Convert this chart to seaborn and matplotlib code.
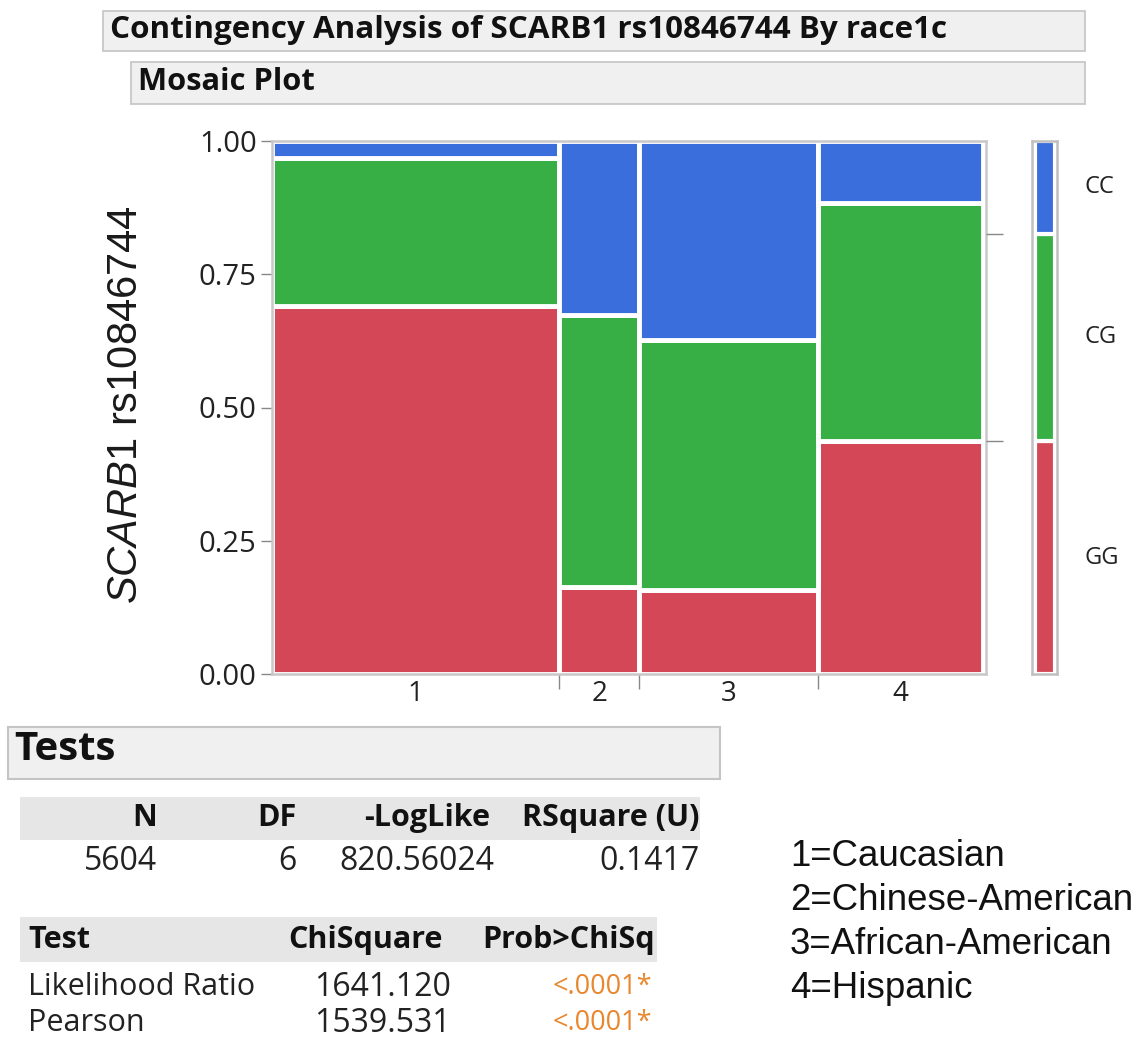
import matplotlib
matplotlib.use("Agg")
import matplotlib.pyplot as plt
from matplotlib.patches import Rectangle
import numpy as np
import seaborn as sns

# ---------------- data ----------------
races = ["1", "2", "3", "4"]
race_share = [0.404, 0.112, 0.252, 0.232]          # column widths (share of N)
genotypes = ["GG", "CG", "CC"]                     # bottom -> top
gg_share = [0.690, 0.163, 0.157, 0.437]
cg_share = [0.278, 0.511, 0.470, 0.447]
cc_share = [0.032, 0.326, 0.373, 0.116]
marginal_share = [0.437, 0.389, 0.174]             # GG, CG, CC overall
y_ticks = [0.00, 0.25, 0.50, 0.75, 1.00]
y_tick_labels = ["0.00", "0.25", "0.50", "0.75", "1.00"]

title = "Contingency Analysis of SCARB1 rs10846744 By race1c"
subtitle = "Mosaic Plot"
tests_title = "Tests"
summary_headers = ["N", "DF", "-LogLike", "RSquare (U)"]
summary_values = ["5604", "6", "820.56024", "0.1417"]
test_headers = ["Test", "ChiSquare", "Prob>ChiSq"]
test_names = ["Likelihood Ratio", "Pearson"]
test_chisq = ["1641.120", "1539.531"]
test_prob = ["<.0001*", "<.0001*"]
race_legend = ["1=Caucasian", "2=Chinese-American", "3=African-American", "4=Hispanic"]

colors = {"GG": "#d44757", "CG": "#37af44", "CC": "#3a6edc"}

# ---------------- figure ----------------
sns.set_theme(style="white")
plt.rcParams["font.family"] = ["Open Sans", "DejaVu Sans"]
plt.rcParams["mathtext.fontset"] = "custom"
plt.rcParams["mathtext.it"] = "Liberation Sans:italic"
plt.rcParams["mathtext.rm"] = "Liberation Sans"

W, H = 1138, 1046
fig = plt.figure(figsize=(W / 100, H / 100), dpi=100)

def fx(x):
    return x / W

def fy(y):
    return 1 - y / H

def box(x0, y0, x1, y1, fc, ec, lw=1.2):
    fig.patches.append(Rectangle((fx(x0), fy(y1)), fx(x1) - fx(x0), fy(y0) - fy(y1),
                                 transform=fig.transFigure, facecolor=fc,
                                 edgecolor=ec, linewidth=lw, zorder=0))

UI = ["Open Sans", "DejaVu Sans"]
ARIAL = ["Liberation Sans", "DejaVu Sans"]

def txt(x, y, s, size, ha="left", weight="normal", color="#1a1a1a", family=None, **kw):
    fam = family if family else UI
    fig.text(fx(x), fy(y), s, fontsize=size, ha=ha, va="center", weight=weight,
             color=color, family=fam, **kw)

# header boxes
box(103, 11, 1085, 51, "#f0f0f0", "#c4c4c4")
txt(110, 30, title, 22.6, weight="bold", color="#111111")
box(131, 62, 1085, 104, "#f0f0f0", "#c4c4c4")
txt(138, 82, subtitle, 22.2, weight="bold", color="#111111")

# ---------------- mosaic ----------------
L, R, T, B = 272, 986, 141, 674
ax = fig.add_axes([fx(L), fy(B), fx(R) - fx(L), fy(T) - fy(B)])
lefts = np.concatenate([[0], np.cumsum(race_share)[:-1]])
shares = {"GG": gg_share, "CG": cg_share, "CC": cc_share}
bottom = np.zeros(len(races))
for g in genotypes:
    h = np.array(shares[g])
    ax.bar(lefts, h, width=race_share, bottom=bottom, align="edge",
           color=colors[g], edgecolor="white", linewidth=3.5, zorder=1)
    bottom += h

ax.set_xlim(0, 1.004)
ax.set_ylim(0, 1)
for sp in ax.spines.values():
    sp.set_color("#c8c8c8")
    sp.set_linewidth(1.8)
ax.set_yticks(y_ticks)
ax.set_yticklabels(y_tick_labels, fontsize=21, color="#222222", family=UI)
bounds = np.cumsum(race_share)[:-1]
ax.set_xticks(bounds)
ax.set_xticklabels([])
ax.tick_params(axis="y", which="major", length=8, width=1, color="#888888", pad=3,
               left=True)
ax.tick_params(axis="x", which="major", length=11, width=1, color="#888888",
               bottom=True, direction="out")
centers = lefts + np.array(race_share) / 2
for c, lab in zip(centers, races):
    ax.text(c, -0.038, lab, transform=ax.get_xaxis_transform(), ha="center",
            va="center", fontsize=20, color="#222222", family=UI)

ax.set_ylabel("")
fig.text(fx(126), fy(405), r"$\mathit{SCARB1}$" + " rs10846744", rotation=90,
         ha="center", va="center", fontsize=30, color="#1a1a1a", family=ARIAL)

# right-side ticks at marginal boundaries
ax2 = ax.twinx()
ax2.set_ylim(0, 1)
ax2.set_yticks(np.cumsum(marginal_share)[:-1])
ax2.set_yticklabels([])
ax2.tick_params(axis="y", right=True, length=12, width=1, color="#888888")
for sp in ax2.spines.values():
    sp.set_visible(False)
ax2.grid(False)

# marginal bar
axm = fig.add_axes([fx(1032), fy(B), fx(1057) - fx(1032), fy(T) - fy(B)])
mb = 0.0
for g, s in zip(genotypes, marginal_share):
    axm.bar([0.5], [s], width=0.8, bottom=mb, color=colors[g], edgecolor="white",
            linewidth=3, zorder=1)
    axm.text(2.1, mb + s / 2, g, transform=axm.get_yaxis_transform(), ha="left",
             va="center", fontsize=17, color="#222222", family=UI)
    mb += s
axm.set_xlim(0, 1)
axm.set_ylim(0, 1)
axm.set_xticks([])
axm.set_yticks([])
for sp in axm.spines.values():
    sp.set_color("#c0c0c0")
    sp.set_linewidth(1.8)

# ---------------- tests section ----------------
box(8, 727, 720, 779, "#f0f0f0", "#c4c4c4", lw=1.5)
txt(14, 749, tests_title, 29, weight="bold", color="#111111")

box(20, 797, 700, 840, "#e6e6e6", "#e6e6e6", lw=0)
hdr_right = [157, 297, 490, 700]
val_right = [157, 297, 494, 700]
for s, xr in zip(summary_headers, hdr_right):
    txt(xr, 818, s, 22, ha="right", weight="bold", color="#111111")
for s, xr in zip(summary_values, val_right):
    txt(xr, 862, s, 23, ha="right", color="#222222")

box(20, 917, 657, 962, "#e6e6e6", "#e6e6e6", lw=0)
txt(28, 940, test_headers[0], 22, weight="bold", color="#111111")
txt(443, 940, test_headers[1], 22, ha="right", weight="bold", color="#111111")
txt(655, 940, test_headers[2], 22, ha="right", weight="bold", color="#111111")
for i, (n, c, p) in enumerate(zip(test_names, test_chisq, test_prob)):
    yy = 987 + 36 * i
    txt(28, yy, n, 22, color="#222222")
    txt(451, yy, c, 23, ha="right", color="#222222")
    txt(652, yy, p, 19.5, ha="right", color="#e8872e")

# race legend
for i, s in enumerate(race_legend):
    txt(790, 857 + 44 * i, s, 26.4, color="#111111", family=ARIAL)

fig.savefig("out.png", dpi=100)
